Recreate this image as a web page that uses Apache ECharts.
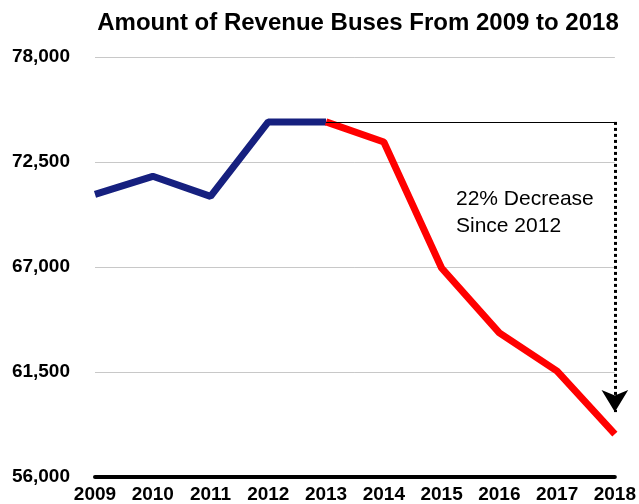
<!DOCTYPE html>
<html>
<head>
<meta charset="utf-8">
<script src="https://cdn.jsdelivr.net/npm/echarts@6/dist/echarts.min.js"></script>
<style>
  html, body { margin: 0; padding: 0; background: #fff; }
  #chart { width: 639px; height: 504px; }
</style>
</head>
<body>
<div id="chart"></div>
<script>
// data
var years = ['2009', '2010', '2011', '2012', '2013', '2014', '2015', '2016', '2017', '2018'];
var buses = [70800, 71750, 70700, 74600, 74600, 73550, 66950, 63550, 61550, 58250];
var yTicks = [56000, 61500, 67000, 72500, 78000];
var refLevel = 74600;   // 2012 level
var arrowEnd = 59400;

// the axis counts from zero so the 5,500 steps land on the printed ticks
var base = yTicks[0];
var step = yTicks[1] - yTicks[0];
function shift(v) { return v - base; }

var blueData = buses.map(function (v, i) { return i <= 4 ? shift(v) : '-'; });
var redData = buses.map(function (v, i) { return i >= 4 ? shift(v) : '-'; });

var font = '"Liberation Sans", Arial, Helvetica, sans-serif';

var chart = echarts.init(document.getElementById('chart'));
chart.setOption({
  animation: false,
  title: {
    text: 'Amount of Revenue Buses From 2009 to 2018',
    left: 353,
    textAlign: 'center',
    top: 6,
    textStyle: { fontFamily: font, fontSize: 24, fontWeight: 'bold', color: '#000' }
  },
  grid: { left: 95, right: 22, top: 57, bottom: 25 },
  xAxis: {
    type: 'category',
    data: years,
    boundaryGap: false,
    axisLine: { lineStyle: { color: '#000', width: 4 } },
    axisTick: { show: false },
    axisLabel: { margin: 8, fontFamily: font, fontSize: 19, fontWeight: 'bold', color: '#000' }
  },
  yAxis: {
    type: 'value',
    min: 0,
    max: yTicks[yTicks.length - 1] - base,
    interval: step,
    axisLine: { show: false },
    axisTick: { show: false },
    splitLine: { lineStyle: { color: '#c8c8c8', width: 1 } },
    axisLabel: {
      margin: 25,
      fontFamily: font, fontSize: 19, fontWeight: 'bold', color: '#000',
      formatter: function (v) { return (v + base).toLocaleString('en-US'); }
    }
  },
  graphic: [{
    type: 'text',
    left: 456,
    top: 186,
    style: {
      text: '22% Decrease\nSince 2012',
      fontFamily: font, fontSize: 21, lineHeight: 27, fill: '#000'
    }
  }],
  series: [{
    type: 'line',
    data: blueData,
    symbol: 'none',
    lineStyle: { color: '#16207f', width: 7 },
    z: 3
  }, {
    type: 'line',
    data: redData,
    symbol: 'none',
    lineStyle: { color: '#ff0000', width: 7 },
    z: 4,
    markLine: {
      silent: true,
      label: { show: false },
      data: [
        [{ coord: ['2013', shift(refLevel)], symbol: 'none', lineStyle: { color: '#000', width: 1, type: 'solid' } },
         { coord: ['2018', shift(refLevel)], symbol: 'none' }],
        [{ coord: ['2018', shift(refLevel)], symbol: 'none', lineStyle: { color: '#000', width: 3, type: [3, 3] } },
         { coord: ['2018', shift(arrowEnd)], symbol: 'arrow', symbolSize: [20, 22] }]
      ]
    }
  }]
});
</script>
</body>
</html>
